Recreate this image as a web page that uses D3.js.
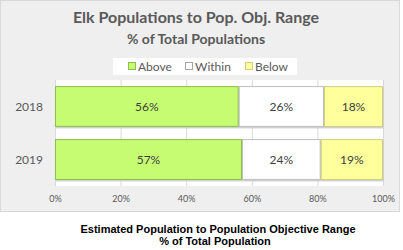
<!DOCTYPE html>
<html>
<head>
<meta charset="utf-8">
<script src="https://cdn.jsdelivr.net/npm/d3@7"></script>
<style>
  body { margin: 0; background: #fff; }
  svg { display: block; }
</style>
</head>
<body>
<div id="chart"></div>
<script>
// data
var years = ["2018", "2019"];
var categories = ["Above", "Within", "Below"];
var aboveVals = [0.56, 0.57];
var withinVals = [0.26, 0.24];
var belowVals = [0.18, 0.19];
var tickVals = [0, 0.2, 0.4, 0.6, 0.8, 1.0];

var fills = ["#c5fc72", "#ffffff", "#ffff9c"];
var strokes = ["#8fbd4e", "#bfbfbf", "#cfcf80"];

var width = 403, height = 250;

var svg = d3.select("#chart").append("svg")
    .attr("width", width)
    .attr("height", height);

// chart background panel
svg.append("rect")
    .attr("x", 0.5).attr("y", 0.5)
    .attr("width", 399).attr("height", 211)
    .attr("fill", "#efefef")
    .attr("stroke", "#d9d9d9");

var titleFont = "Lato, 'Open Sans', sans-serif";

svg.append("text")
    .attr("x", 196).attr("y", 23)
    .attr("text-anchor", "middle")
    .attr("font-family", titleFont)
    .attr("font-weight", "bold")
    .attr("font-size", "16px")
    .attr("fill", "#595959")
    .text("Elk Populations to Pop. Obj. Range");

svg.append("text")
    .attr("x", 196).attr("y", 44)
    .attr("text-anchor", "middle")
    .attr("font-family", titleFont)
    .attr("font-weight", "bold")
    .attr("font-size", "14px")
    .attr("fill", "#595959")
    .text("% of Total Populations");

// plot area
var x = d3.scaleLinear().domain([0, 1]).range([55, 383]);
var y = d3.scaleBand().domain(years).range([80, 186]).paddingInner(0.23).paddingOuter(0.115);

svg.append("rect")
    .attr("x", x(0)).attr("y", 80)
    .attr("width", x(1) - x(0)).attr("height", 106)
    .attr("fill", "#ffffff");

// gridlines
svg.append("g")
    .selectAll("line")
    .data(tickVals)
    .enter()
    .append("line")
    .attr("x1", function(d){ return x(d) + 0.5; })
    .attr("x2", function(d){ return x(d) + 0.5; })
    .attr("y1", 80).attr("y2", 186)
    .attr("stroke", "#d9d9d9");

// legend
var legend = svg.append("g");
legend.append("rect")
    .attr("x", 113).attr("y", 58)
    .attr("width", 184).attr("height", 17)
    .attr("fill", "#ffffff");

var legendX = [128, 185, 245];
categories.forEach(function(c, i){
    legend.append("rect")
        .attr("x", legendX[i] + 0.5).attr("y", 62.5)
        .attr("width", 7).attr("height", 7)
        .attr("fill", fills[i])
        .attr("stroke", i == 1 ? "#a6a6a6" : strokes[i]);
    legend.append("text")
        .attr("x", legendX[i] + 10).attr("y", 70.5)
        .attr("font-family", titleFont)
        .attr("font-size", "12px")
        .attr("fill", "#595959")
        .text(c);
});

// stacked bars
var series = [aboveVals, withinVals, belowVals];
var rows = years.map(function(yr, j){
    var x0 = 0;
    return series.map(function(s, i){
        var seg = {year: yr, cat: i, start: x0, value: s[j]};
        x0 += s[j];
        return seg;
    });
});

var bars = svg.append("g");
rows.forEach(function(row){
    // soft shadow under each bar
    bars.append("rect")
        .attr("x", x(0) + 1)
        .attr("y", y(row[0].year) + 1.5)
        .attr("width", x(1) - x(0))
        .attr("height", y.bandwidth())
        .attr("fill", "#cfcfcf");
    bars.selectAll(null)
        .data(row)
        .enter()
        .append("rect")
        .attr("x", function(d){ return x(d.start) + 0.5; })
        .attr("y", function(d){ return y(d.year) + 0.5; })
        .attr("width", function(d){ return x(d.start + d.value) - x(d.start) - 1; })
        .attr("height", y.bandwidth() - 1)
        .attr("fill", function(d){ return fills[d.cat]; })
        .attr("stroke", function(d){ return strokes[d.cat]; });
    bars.selectAll(null)
        .data(row)
        .enter()
        .append("text")
        .attr("x", function(d){ return x(d.start + d.value / 2); })
        .attr("y", function(d){ return y(d.year) + y.bandwidth() / 2 + 4; })
        .attr("text-anchor", "middle")
        .attr("font-family", titleFont)
        .attr("font-size", "12px")
        .attr("fill", "#404040")
        .text(function(d){ return Math.round(d.value * 100) + "%"; });
});

// y labels
svg.append("g")
    .selectAll("text")
    .data(years)
    .enter()
    .append("text")
    .attr("x", 43)
    .attr("y", function(d){ return y(d) + y.bandwidth() / 2 + 4; })
    .attr("text-anchor", "end")
    .attr("font-family", titleFont)
    .attr("font-size", "12px")
    .attr("fill", "#595959")
    .text(function(d){ return d; });

// x axis labels
var xAxis = d3.axisBottom(x)
    .tickValues(tickVals)
    .tickSize(0)
    .tickPadding(10)
    .tickFormat(d3.format(".0%"));
var gx = svg.append("g")
    .attr("transform", "translate(0,186)")
    .call(xAxis);
gx.select(".domain").remove();
gx.selectAll("text")
    .attr("font-family", titleFont)
    .attr("font-size", "9px")
    .attr("fill", "#595959");

// caption below chart
svg.append("text")
    .attr("x", 218).attr("y", 233)
    .attr("text-anchor", "middle")
    .attr("font-family", "'Liberation Sans', Arial, sans-serif")
    .attr("font-weight", "bold")
    .attr("font-size", "11px")
    .attr("fill", "#000")
    .text("Estimated Population to Population Objective Range");

svg.append("text")
    .attr("x", 215).attr("y", 245)
    .attr("text-anchor", "middle")
    .attr("font-family", "'Liberation Sans', Arial, sans-serif")
    .attr("font-weight", "bold")
    .attr("font-size", "11px")
    .attr("fill", "#000")
    .text("% of Total Population");
</script>
</body>
</html>
